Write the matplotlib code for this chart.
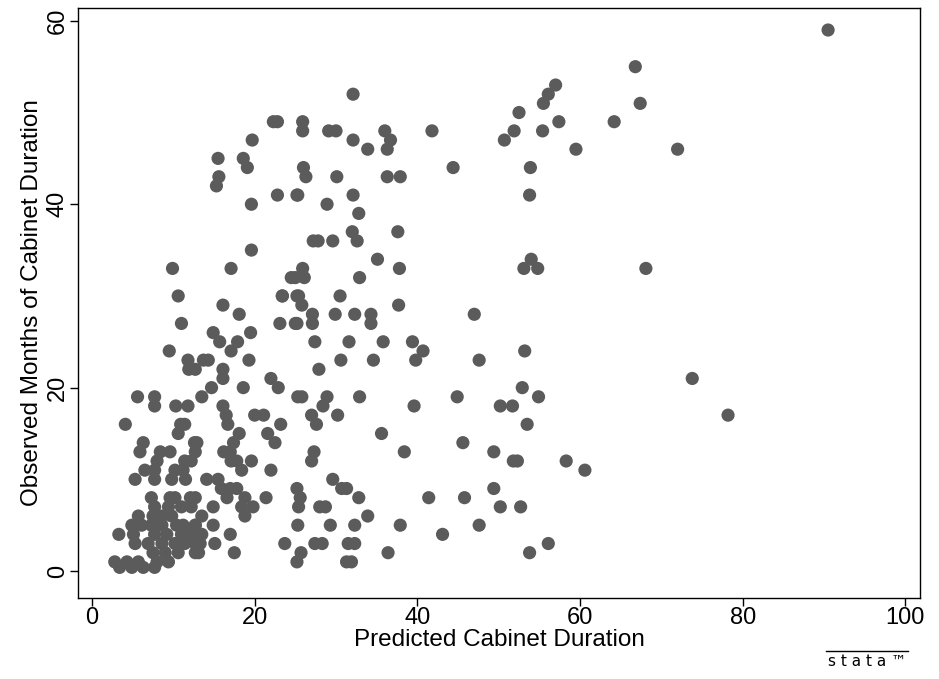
import matplotlib
matplotlib.use("Agg")
import matplotlib.pyplot as plt
from matplotlib.lines import Line2D

plt.rcParams['font.family'] = ['Liberation Sans', 'DejaVu Sans']

# Predicted cabinet duration (x) and observed months (y)
predicted = [
    90.5, 66.8, 67.4, 64.2, 59.5, 72.0, 68.1, 73.8, 78.2, 60.6, 58.3, 56.1, 53.8,
    57.0, 56.1, 55.5, 52.5, 57.4, 51.9, 55.4, 50.7, 44.4, 53.9, 53.8, 54.0, 53.1, 54.8,
    47.0, 53.2, 47.6, 52.9, 44.9, 54.9, 50.2, 51.7, 53.5, 45.6, 49.4, 51.8, 52.3,
    45.8, 49.4, 50.2, 52.7, 47.6,
    32.1, 25.9, 25.9, 29.1, 30.0, 36.0, 41.8, 32.1, 36.7, 33.9, 36.3, 26.0, 26.3,
    30.1, 36.3, 37.9, 25.3, 32.1, 28.9, 32.8, 32.0, 37.6, 27.2, 27.8, 29.6, 32.6,
    35.1, 25.9, 37.8, 26.1, 25.0, 32.9, 25.4, 30.5, 25.8, 37.7,
    27.1, 29.9, 32.3, 34.3, 25.2, 27.1, 34.3, 27.4, 31.6, 35.8, 39.4, 40.7, 30.6,
    34.6, 39.8, 27.9, 25.3, 25.8, 28.9, 32.9, 28.4, 39.6, 27.0, 30.2, 27.6, 35.6,
    27.3, 27.0, 38.4, 29.6, 30.7, 31.3, 25.2, 32.8, 41.4, 25.6, 25.4, 28.0, 28.7,
    33.9, 25.3, 29.3, 32.3, 37.9, 43.1, 27.4, 28.3, 31.5, 32.3, 36.4, 25.7, 25.2,
    31.3, 31.9,
    16.1, 18.1, 23.4, 23.1, 25.0, 14.9, 19.5, 15.7, 17.9, 17.1, 13.7, 14.3, 19.3,
    12.7, 16.1, 16.1, 22.0, 14.7, 18.6, 22.9, 13.5, 16.1, 16.5, 20.0, 21.1, 16.7,
    23.2, 18.1, 21.6, 12.9, 17.4, 22.5,
    10.6, 11.0, 9.5, 11.8, 11.9, 5.6, 7.7, 7.7, 10.3, 11.8, 4.1, 10.9, 11.4, 10.6,
    6.3, 12.6,
    22.3, 22.8, 19.7, 15.5, 18.6, 19.1, 15.6, 15.3, 22.8, 25.2, 19.6, 19.6, 9.9,
    17.1, 24.5, 23.4, 25.2,
    16.2, 17.0, 17.1, 17.8, 19.6, 18.4, 22.0, 14.1, 15.5, 15.9, 17.0, 17.8, 16.6,
    18.8, 21.4, 12.7, 14.9, 18.4, 19.8, 18.8, 13.5, 14.9, 12.7, 13.0, 17.0, 13.3,
    15.1, 23.7, 13.1, 17.5,
    5.9, 8.4, 9.6, 12.7, 8.0, 11.4, 12.2, 6.5, 7.7, 10.2, 11.2, 5.3, 7.7, 9.8, 11.5,
    7.3, 9.6, 10.2, 12.1, 7.7, 9.4, 11.0, 12.2, 5.7, 7.5, 8.6, 9.8, 4.9, 6.1, 7.3,
    8.6, 10.4, 11.2, 12.7, 3.3, 5.1, 7.7, 9.2, 11.0, 12.1, 13.5, 5.3, 6.9, 8.6,
    10.2, 11.4, 12.7, 7.5, 9.0, 10.6, 12.7, 2.8, 4.3, 5.7, 8.0, 9.4, 3.4, 4.9, 6.3,
    7.7,
]
observed = [
    59, 55, 51, 49, 46, 46, 33, 21, 17, 11, 12, 3, 2,
    53, 52, 51, 50, 49, 48, 48, 47, 44, 44, 41, 34, 33, 33,
    28, 24, 23, 20, 19, 19, 18, 18, 16, 14, 13, 12, 12,
    8, 9, 7, 7, 5,
    52, 49, 48, 48, 48, 48, 48, 47, 47, 46, 46, 44, 43,
    43, 43, 43, 41, 41, 40, 39, 37, 37, 36, 36, 36, 36,
    34, 33, 33, 32, 32, 32, 30, 30, 29, 29,
    28, 28, 28, 28, 27, 27, 27, 25, 25, 25, 25, 24, 23,
    23, 23, 22, 19, 19, 19, 19, 18, 18, 17, 17, 16, 15,
    13, 12, 13, 10, 9, 9, 9, 8, 8, 8, 7, 7, 7,
    6, 5, 5, 5, 5, 4, 3, 3, 3, 3, 2, 2, 1,
    1, 1,
    29, 28, 30, 27, 27, 26, 26, 25, 25, 24, 23, 23, 23,
    22, 22, 21, 21, 20, 20, 20, 19, 18, 17, 17, 17, 16,
    16, 15, 15, 14, 14, 14,
    30, 27, 24, 23, 22, 19, 19, 18, 18, 18, 16, 16, 16, 15,
    14, 14,
    49, 49, 47, 45, 45, 44, 43, 42, 41, 41, 40, 35, 33,
    33, 32, 30, 30,
    13, 13, 12, 12, 12, 11, 11, 10, 10, 9, 9, 9, 8,
    8, 8, 8, 7, 7, 7, 6, 6, 5, 5, 4, 4, 3,
    3, 3, 2, 2,
    13, 13, 13, 13, 12, 12, 12, 11, 11, 11, 11, 10, 10, 10, 10,
    8, 8, 8, 8, 7, 7, 7, 7, 6, 6, 6, 6, 5, 5, 5,
    5, 5, 5, 5, 4, 4, 4, 4, 4, 4, 4, 3, 3, 3,
    3, 3, 3, 2, 2, 2, 2, 1, 1, 1, 1, 1, 0.4, 0.4, 0.4,
    0.4,
]

x_ticks = [0, 20, 40, 60, 80, 100]
y_ticks = [0, 20, 40, 60]

fig = plt.figure(figsize=(9.39, 6.79), dpi=100)
ax = fig.add_axes([78/939, 1 - 598/679, (920-78)/939, (598-8)/679])

ax.scatter(predicted, observed, s=90, color='#5b5b5b', edgecolors='none', zorder=3)

ax.set_xlim(-1.72, 101.8)
ax.set_ylim(-2.94, 61.4)
ax.set_xticks(x_ticks)
ax.set_yticks(y_ticks)
ax.tick_params(axis='both', direction='out', length=6, width=1, labelsize=17,
               colors='black', pad=0.5)
for lbl in ax.get_yticklabels():
    lbl.set_rotation(90)
    lbl.set_va('center')
for sp in ax.spines.values():
    sp.set_linewidth(1)
    sp.set_color('black')

ax.set_xlabel('Predicted Cabinet Duration', fontsize=17.5, labelpad=0)
ax.set_ylabel('Observed Months of Cabinet Duration', fontsize=17.5, labelpad=3)

# Stata logo
fig.text(867/939, 1 - 662/679, 's t a t a \u2122', fontsize=11, ha='center', va='center',
         color='black', family=['DejaVu Sans'])
fig.add_artist(Line2D([826/939, 908/939], [1 - 651/679, 1 - 651/679],
                      transform=fig.transFigure, color='black', linewidth=1))

fig.savefig('out.png', dpi=100)
